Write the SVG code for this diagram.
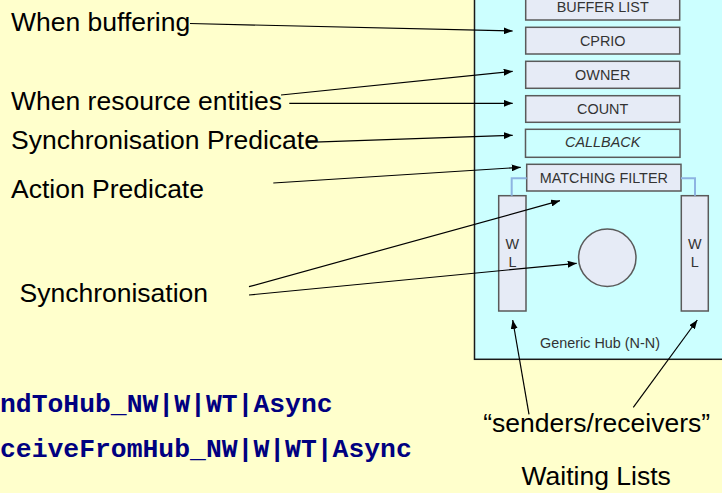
<svg xmlns="http://www.w3.org/2000/svg" width="722" height="493" viewBox="0 0 722 493">
  <style>
    .lbl { font-family: "Liberation Sans", Arial, sans-serif; font-size: 26.5px; fill: #000000; }
    .mono { font-family: "Liberation Mono", "Courier New", monospace; font-size: 26.4px; font-weight: bold; fill: #000080; }
    .box { fill: #E6EBF6; stroke: #5A5A5A; stroke-width: 1.5; }
    .boxc { fill: none; stroke: #5A5A5A; stroke-width: 1.5; }
    .btxt { font-family: "Liberation Sans", Arial, sans-serif; font-size: 14.4px; fill: #333333; text-anchor: middle; }
    .link { fill: none; stroke: #8DB4E2; stroke-width: 2; }
    .arrow { fill: none; stroke: #000000; stroke-width: 1.2; marker-end: url(#head); }
  </style>
  <defs>
    <marker id="head" markerUnits="userSpaceOnUse" markerWidth="9" markerHeight="7" refX="9" refY="3.5" orient="auto">
      <path d="M0,0 L9,3.5 L0,7 z" fill="#000000"/>
    </marker>
  </defs>

  <!-- page background -->
  <rect x="0" y="0" width="722" height="493" fill="#FFFFCC"/>

  <!-- hub panel -->
  <g id="hub">
    <rect x="474.5" y="-5" width="260" height="364.3" fill="#CCFFFF" stroke="#1A1A1A" stroke-width="1.5"/>
    <text class="btxt" x="600" y="347.5">Generic Hub (N-N)</text>
  </g>

  <!-- hub fields -->
  <g id="buffer-list">
    <rect class="box" x="525.7" y="-7" width="154" height="27"/>
    <text class="btxt" x="602.7" y="11.5">BUFFER LIST</text>
  </g>
  <g id="cprio">
    <rect class="box" x="525.7" y="27.3" width="154" height="26.7"/>
    <text class="btxt" x="602.7" y="45.5">CPRIO</text>
  </g>
  <g id="owner">
    <rect class="box" x="525.7" y="61.3" width="154" height="27"/>
    <text class="btxt" x="602.7" y="79.6">OWNER</text>
  </g>
  <g id="count">
    <rect class="box" x="525.7" y="95.7" width="154" height="26.6"/>
    <text class="btxt" x="602.7" y="113.8">COUNT</text>
  </g>
  <g id="callback">
    <rect class="boxc" x="525.5" y="129.3" width="154.5" height="28"/>
    <text class="btxt" x="602.7" y="147" font-style="italic">CALLBACK</text>
  </g>
  <g id="matching-filter">
    <rect class="box" x="526.7" y="164.3" width="154.3" height="26.7"/>
    <text class="btxt" x="603.8" y="182.5">MATCHING FILTER</text>
  </g>

  <!-- waiting lists and synchronisation object -->
  <g id="wl-left">
    <rect class="box" x="498.7" y="195.7" width="27.3" height="115.3"/>
    <text class="btxt" x="512.4" y="249">W</text>
    <text class="btxt" x="512.4" y="267.3">L</text>
  </g>
  <g id="wl-right">
    <rect class="box" x="681.3" y="195.7" width="27" height="115.3"/>
    <text class="btxt" x="694.8" y="249">W</text>
    <text class="btxt" x="694.8" y="267.3">L</text>
  </g>
  <g id="sync-object">
    <circle class="box" cx="607.3" cy="257.7" r="28.7"/>
  </g>

  <!-- annotations -->
  <g id="label-buffering"><text class="lbl" x="11" y="31">When buffering</text></g>
  <g id="label-resource"><text class="lbl" x="11" y="110">When resource entities</text></g>
  <g id="label-sync-pred"><text class="lbl" x="11" y="149">Synchronisation Predicate</text></g>
  <g id="label-action-pred"><text class="lbl" x="11" y="197.5">Action Predicate</text></g>
  <g id="label-sync"><text class="lbl" x="19.5" y="301.5">Synchronisation</text></g>
  <g id="label-senders"><text class="lbl" x="596.7" y="431.7" text-anchor="middle">“senders/receivers”</text></g>
  <g id="label-waiting"><text class="lbl" x="596.2" y="485" text-anchor="middle">Waiting Lists</text></g>
  <g id="api-send"><text class="mono" x="0" y="412">ndToHub_NW|W|WT|Async</text></g>
  <g id="api-receive"><text class="mono" x="0" y="456.5">ceiveFromHub_NW|W|WT|Async</text></g>

  <!-- connectors -->
  <g id="connectors">
    <path class="link" d="M526.7,178.3 H511.7 V195.7"/>
    <path class="link" d="M681,178.3 H695 V195.7"/>
    <line class="arrow" x1="190" y1="23.5" x2="512.7" y2="31"/>
    <line class="arrow" x1="281" y1="95" x2="512.7" y2="71.3"/>
    <line class="arrow" x1="289.3" y1="103.3" x2="512.7" y2="103.3"/>
    <line class="arrow" x1="306.7" y1="142.3" x2="512.7" y2="135.3"/>
    <line class="arrow" x1="273.3" y1="183" x2="520.7" y2="167.3"/>
    <line class="arrow" x1="249" y1="286.7" x2="560" y2="200.7"/>
    <line class="arrow" x1="249" y1="295" x2="576.7" y2="263.3"/>
    <line class="arrow" x1="529" y1="414.3" x2="512.7" y2="320"/>
    <line class="arrow" x1="633.3" y1="407.3" x2="697.3" y2="320"/>
  </g>
</svg>
